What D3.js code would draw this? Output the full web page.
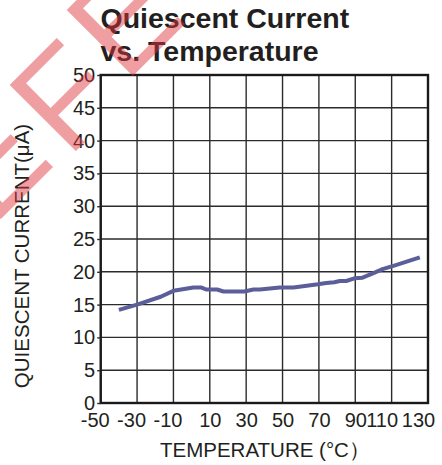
<html>
<script src="https://d3js.org/d3.v7.min.js"></script>
<style>
body { margin: 0; background: #fff; }
text { font-family: "Liberation Sans", Arial, sans-serif; fill: #231f20; }
</style>
<body>
<svg width="442" height="465"></svg>
<script>
var temps   = [-40, -30, -17, -10, 1, 5.5, 8, 14, 17.5, 29, 34, 37.5, 48.5, 56, 69.5, 74, 78.5, 81.5, 85, 89.5, 94, 100, 105, 111, 125.5];
var current = [14.2, 15.0, 16.2, 17.1, 17.6, 17.6, 17.3, 17.3, 17.0, 17.0, 17.3, 17.3, 17.6, 17.6, 18.1, 18.3, 18.4, 18.6, 18.6, 19.0, 19.1, 19.8, 20.4, 20.9, 22.2];
var xTicks  = [-50, -30, -10, 10, 30, 50, 70, 90, 110, 130];
var yTicks  = [0, 5, 10, 15, 20, 25, 30, 35, 40, 45, 50];
var titleLines = ["Quiescent Current", "vs. Temperature"];

var svg = d3.select("svg");
var pLeft = 100.7, pRight = 428, pTop = 75, pBottom = 403;

var x = d3.scaleLinear().domain([-50, 130]).range([pLeft, pRight]);
var y = d3.scaleLinear().domain([0, 50]).range([pBottom, pTop]);

// grid
svg.append("g")
  .selectAll("line")
  .data(xTicks)
  .enter()
  .append("line")
  .attr("x1", function(d) { return x(d); })
  .attr("x2", function(d) { return x(d); })
  .attr("y1", pTop).attr("y2", pBottom)
  .attr("stroke", "#2b2b2b").attr("stroke-width", 1.4);

svg.append("g")
  .selectAll("line")
  .data(yTicks)
  .enter()
  .append("line")
  .attr("y1", function(d) { return y(d); })
  .attr("y2", function(d) { return y(d); })
  .attr("x1", pLeft).attr("x2", pRight)
  .attr("stroke", "#2b2b2b").attr("stroke-width", 1.4);

svg.append("rect")
  .attr("x", pLeft).attr("y", pTop)
  .attr("width", pRight - pLeft).attr("height", pBottom - pTop)
  .attr("fill", "none").attr("stroke", "#1a1a1a").attr("stroke-width", 2.4);

// axes
var yAxis = d3.axisLeft(y).tickValues(yTicks).tickSize(3.5).tickPadding(2).tickFormat(String);
var gy = svg.append("g").attr("transform", "translate(" + pLeft + ",0)").call(yAxis);
gy.select(".domain").remove();
gy.selectAll("line").attr("stroke", "#2b2b2b").attr("stroke-width", 1.4);
gy.selectAll("text").attr("font-size", 20).attr("font-family", null).attr("fill", null);

var xAxis = d3.axisBottom(x).tickValues(xTicks).tickSize(0).tickPadding(10).tickFormat(String);
var gx = svg.append("g").attr("transform", "translate(0," + pBottom + ")").call(xAxis);
gx.select(".domain").remove();
gx.selectAll("text")
  .attr("font-size", 20).attr("font-family", null).attr("fill", null)
  .attr("dx", function(d) { return d < 0 ? -6 : (d >= 100 ? -10 : 0); });

// curve
var pts = temps.map(function(t, i) { return [t, current[i]]; });
svg.append("path")
  .datum(pts)
  .attr("fill", "none")
  .attr("stroke", "#5b5e99")
  .attr("stroke-width", 4)
  .attr("stroke-linejoin", "round")
  .attr("d", d3.line().x(function(d) { return x(d[0]); }).y(function(d) { return y(d[1]); }));

// titles
svg.append("g").selectAll("text")
  .data(titleLines)
  .enter()
  .append("text")
  .attr("x", 100.5)
  .attr("y", function(d, i) { return 28 + i * 33; })
  .attr("font-size", 28.5).attr("font-weight", "bold")
  .text(function(d) { return d; });

svg.append("text")
  .attr("x", 160).attr("y", 456.5)
  .attr("font-size", 20.5)
  .text("TEMPERATURE (°C）");

svg.append("text")
  .attr("transform", "translate(29,256) rotate(-90)")
  .attr("text-anchor", "middle")
  .attr("font-size", 20.5)
  .text("QUIESCENT CURRENT(μA)");

// watermark letters, drawn over everything
var wm = svg.append("g").attr("opacity", 0.48);
wm.append("text").attr("transform", "translate(-7,227) rotate(-45)")
  .attr("font-size", 136).style("fill", "#df363e").text("E");
wm.append("text").attr("transform", "translate(68,159) rotate(-45)")
  .attr("font-size", 136).style("fill", "#df363e").text("F");
wm.append("text").attr("transform", "translate(125,84) rotate(-45)")
  .attr("font-size", 136).style("fill", "#df363e").text("E");
</script>
</body>
</html>
